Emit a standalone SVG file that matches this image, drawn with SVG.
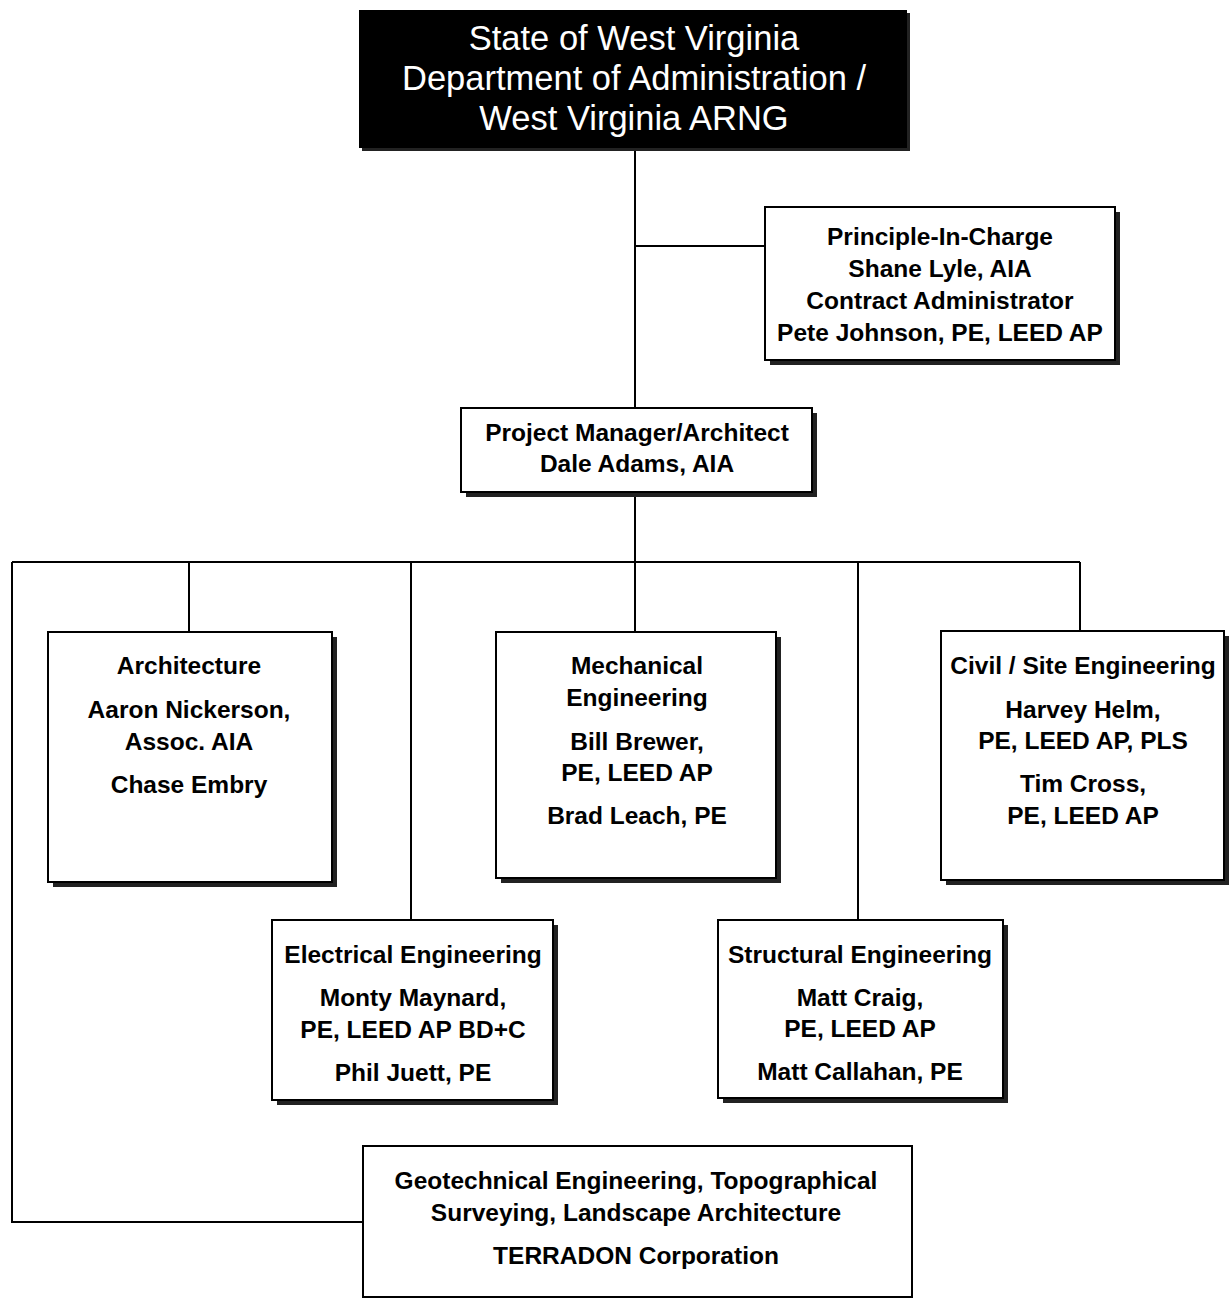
<svg xmlns="http://www.w3.org/2000/svg" width="1230" height="1299" viewBox="0 0 1230 1299">
<style>
.box{fill:#fff;stroke:#000;stroke-width:2}
.sh{fill:#222}
.t{font-family:"Liberation Sans",Arial,sans-serif;font-weight:bold;font-size:24.5px;fill:#000;text-anchor:middle}
.w{font-family:"Liberation Sans",Arial,sans-serif;font-size:34.5px;fill:#fff;text-anchor:middle}
.ln{stroke:#000;stroke-width:2;fill:none}
</style>
<rect width="1230" height="1299" fill="#fff"/>
<g id="connectors">
<path class="ln" d="M635 148V408M635 246H765M635 492V562M12 562H1080M189 562V632M411 562V920M635 562V632M858 562V920M1080 562V631M12 562V1222H363"/>
</g>
<g id="n-state">
<rect x="362" y="13" width="548" height="138" class="sh"/>
<rect x="359" y="10" width="548" height="138" fill="#000"/>
<text class="w" x="634" y="50">State of West Virginia</text>
<text class="w" x="634" y="90">Department of Administration /</text>
<text class="w" x="634" y="130">West Virginia ARNG</text>
</g>
<g id="n-principle">
<rect x="770" y="212" width="350" height="153" class="sh"/>
<rect x="765" y="207" width="350" height="153" class="box"/>
<text class="t" x="940" y="245">Principle-In-Charge</text>
<text class="t" x="940" y="277">Shane Lyle, AIA</text>
<text class="t" x="940" y="309">Contract Administrator</text>
<text class="t" x="940" y="341">Pete Johnson, PE, LEED AP</text>
</g>
<g id="n-pm">
<rect x="466" y="413" width="351" height="84" class="sh"/>
<rect x="461" y="408" width="351" height="84" class="box"/>
<text class="t" x="637" y="441">Project Manager/Architect</text>
<text class="t" x="637" y="472">Dale Adams, AIA</text>
</g>
<g id="n-arch">
<rect x="53" y="637" width="284" height="250" class="sh"/>
<rect x="48" y="632" width="284" height="250" class="box"/>
<text class="t" x="189" y="674">Architecture</text>
<text class="t" x="189" y="718">Aaron Nickerson,</text>
<text class="t" x="189" y="750">Assoc. AIA</text>
<text class="t" x="189" y="793">Chase Embry</text>
</g>
<g id="n-mech">
<rect x="501" y="637" width="280" height="246" class="sh"/>
<rect x="496" y="632" width="280" height="246" class="box"/>
<text class="t" x="637" y="674">Mechanical</text>
<text class="t" x="637" y="706">Engineering</text>
<text class="t" x="637" y="750">Bill Brewer,</text>
<text class="t" x="637" y="781">PE, LEED AP</text>
<text class="t" x="637" y="824">Brad Leach, PE</text>
</g>
<g id="n-civil">
<rect x="946" y="636" width="283" height="249" class="sh"/>
<rect x="941" y="631" width="283" height="249" class="box"/>
<text class="t" x="1083" y="674">Civil / Site Engineering</text>
<text class="t" x="1083" y="718">Harvey Helm,</text>
<text class="t" x="1083" y="749">PE, LEED AP, PLS</text>
<text class="t" x="1083" y="792">Tim Cross,</text>
<text class="t" x="1083" y="824">PE, LEED AP</text>
</g>
<g id="n-elec">
<rect x="277" y="925" width="281" height="180" class="sh"/>
<rect x="272" y="920" width="281" height="180" class="box"/>
<text class="t" x="413" y="963">Electrical Engineering</text>
<text class="t" x="413" y="1006">Monty Maynard,</text>
<text class="t" x="413" y="1038">PE, LEED AP BD+C</text>
<text class="t" x="413" y="1081">Phil Juett, PE</text>
</g>
<g id="n-struct">
<rect x="723" y="925" width="285" height="178" class="sh"/>
<rect x="718" y="920" width="285" height="178" class="box"/>
<text class="t" x="860" y="963">Structural Engineering</text>
<text class="t" x="860" y="1006">Matt Craig,</text>
<text class="t" x="860" y="1037">PE, LEED AP</text>
<text class="t" x="860" y="1080">Matt Callahan, PE</text>
</g>
<g id="n-geo">
<rect x="363" y="1146" width="549" height="151" class="box"/>
<text class="t" x="636" y="1189">Geotechnical Engineering, Topographical</text>
<text class="t" x="636" y="1221">Surveying, Landscape Architecture</text>
<text class="t" x="636" y="1264">TERRADON Corporation</text>
</g>
</svg>
